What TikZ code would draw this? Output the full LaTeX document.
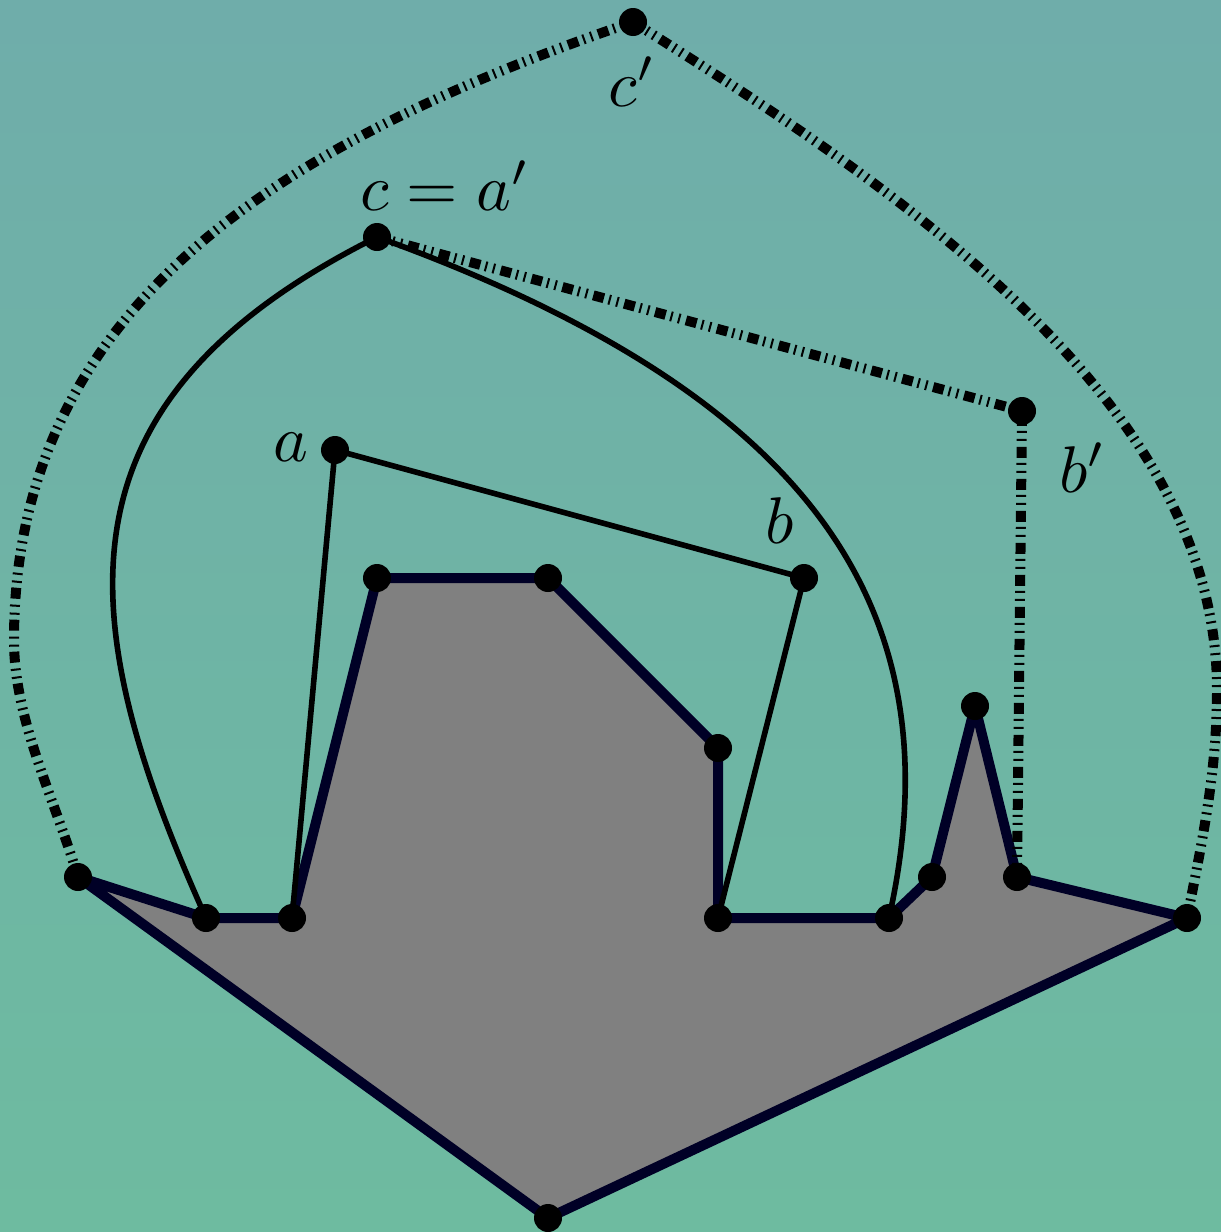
\documentclass[tikz,border=0pt]{standalone}
\definecolor{bgtop}{RGB}{111,173,170}
\definecolor{bgbot}{RGB}{110,187,160}
\definecolor{outl}{RGB}{0,0,38}
\definecolor{polyfill}{RGB}{128,128,128}
\tikzset{
  vtx/.style={circle,fill=black,inner sep=0pt,minimum size=14pt},
  thinline/.style={black,line width=2.8pt},
  dashline/.style={black,line width=5pt,dash pattern=on 5.5pt off 2.5pt on 1pt off 3pt on 1pt off 3pt},
  polyline/.style={fill=polyfill,draw=outl,line width=5pt,line join=round},
  lbl/.style={inner sep=0pt,scale=3.3}
}
\begin{document}
\begin{tikzpicture}[x=0.5pt,y=-0.5pt]
\useasboundingbox (0,0) rectangle (1221,1232);
\shade[top color=bgtop,bottom color=bgbot] (0,0) rectangle (1221,1232);
% points
\coordinate (cp) at (633,22);
\coordinate (c) at (377,237);
\coordinate (bp) at (1022,411);
\coordinate (a) at (335,450);
\coordinate (b) at (804,578);
\coordinate (p1) at (78,877);
\coordinate (p2) at (206,918);
\coordinate (p3) at (292,918);
\coordinate (p4) at (377,578);
\coordinate (p5) at (548,578);
\coordinate (p6) at (718,748);
\coordinate (p7) at (718,918);
\coordinate (p8) at (889,918);
\coordinate (p9) at (932,877);
\coordinate (p10) at (975,706);
\coordinate (p11) at (1017,877);
\coordinate (p12) at (1187,918);
\coordinate (p13) at (548,1218);
\coordinate (lft) at (14,640);
\coordinate (rgt) at (1217,690);
% polygon
\filldraw[polyline] (p1) -- (p2) -- (p3) -- (p4) -- (p5) -- (p6) -- (p7) -- (p8) -- (p9) -- (p10) -- (p11) -- (p12) -- (p13) -- cycle;
% solid connectors
\draw[thinline] (p3) -- (a) -- (b) -- (p7);
\draw[thinline] (p2) .. controls (71,618) and (47,402) .. (c);
\draw[thinline] (c) .. controls (800,390) and (960,600) .. (p8);
% dashed connectors
\draw[dashline] (c) -- (bp) -- (p11);
\draw[dashline] (p1) .. controls (54,797) and (14,720) .. (lft) .. controls (14,300) and (293,138) .. (cp);
\draw[dashline] (cp) .. controls (900,190) and (1217,400) .. (rgt) .. controls (1217,770) and (1203,838) .. (p12);
% vertices
\foreach \n in {cp,c,bp,a,b,p1,p2,p3,p4,p5,p6,p7,p8,p9,p10,p11,p12,p13}
  \node[vtx] (v\n) at (\n) {};
% labels
\node[lbl] (lcp) at (632,82) {$c^\prime$};
\node[lbl] (lc) at (445,186) {$c=a^\prime$};
\node[lbl] (la) at (291,447) {$a$};
\node[lbl] (lb) at (780,521) {$b$};
\node[lbl] (lbp) at (1083,468) {$b^\prime$};
\end{tikzpicture}
\end{document}
